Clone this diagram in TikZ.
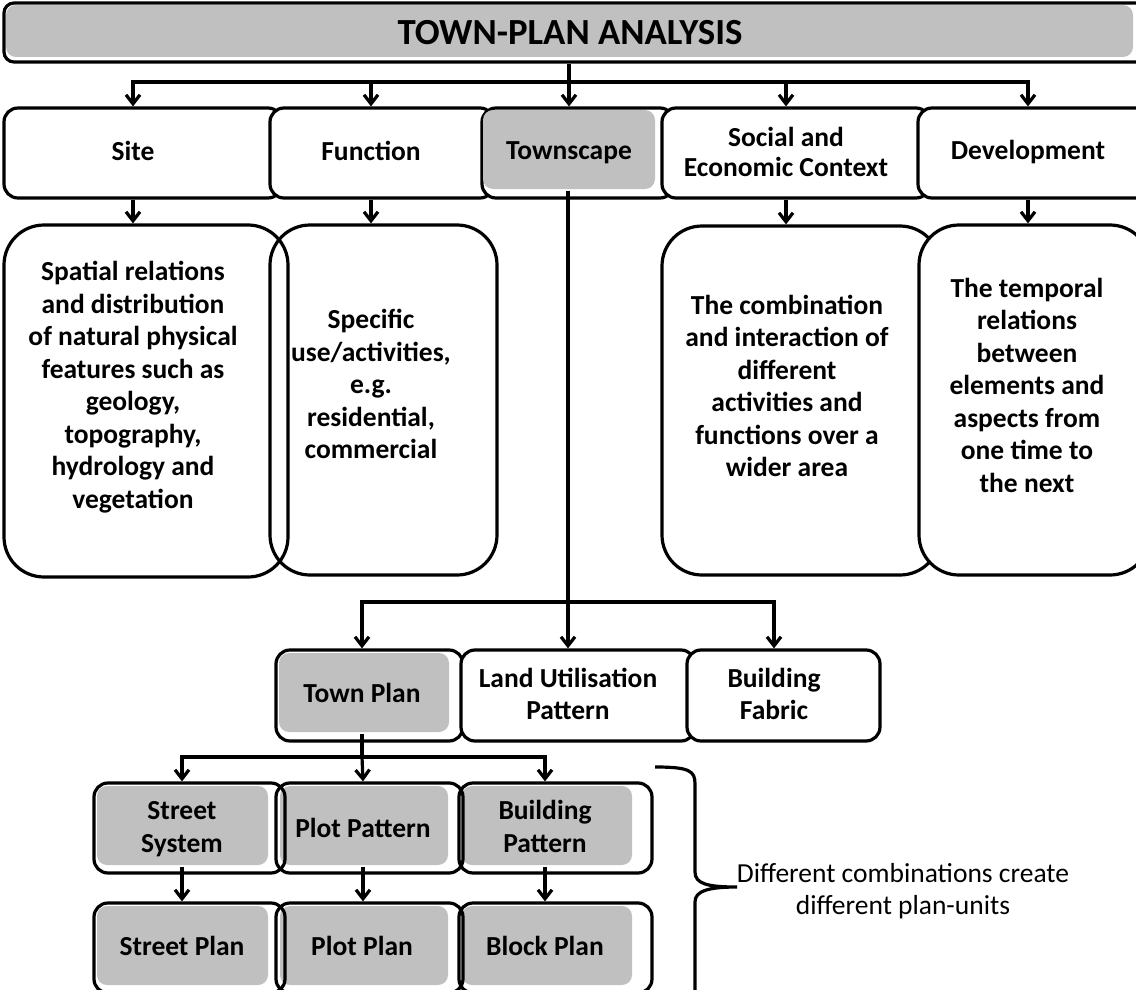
\documentclass[tikz,border=0pt]{standalone}
\usepackage{fontspec}
\setmainfont{Carlito}
\usetikzlibrary{arrows.meta}
\definecolor{boxgray}{RGB}{192,192,192}

\begin{document}
\begin{tikzpicture}[x=1pt,y=-1pt,
  line width=3.2pt,
  card/.style={draw=black, line width=3.2pt, inner sep=0pt, rounded corners=#1},
  card/.default=14pt,
  shade/.style={fill=boxgray, draw=none, inner sep=0pt, rounded corners=10pt},
  lbl/.style={inner sep=0pt, align=center, font=\bfseries\fontsize{27.5}{32.5}\selectfont},
  arr/.style={-{Straight Barb[length=9pt,width=14pt]}},
]
\useasboundingbox (0,0) rectangle (1136,990);
\clip (0,0) rectangle (1136,990);

% ---------- title ----------
\node[card=10pt, fill=white, minimum width=1146pt, minimum height=59pt] (title) at (577,32.5) {};
\node[shade, minimum width=1127pt, minimum height=52pt] (titleG) at (569.5,31) {};
\node[lbl, font=\bfseries\fontsize{36.8}{40}\selectfont] (titleL) at (570,33) {TOWN-PLAN ANALYSIS};

% ---------- first level ----------
\node[card, fill=white, minimum width=278pt, minimum height=90pt] (site) at (143,153) {};
\node[card, fill=white, minimum width=224pt, minimum height=90pt] (func) at (382,153) {};
\node[card, fill=white, minimum width=192pt, minimum height=90pt] (towns) at (578,153) {};
\node[shade, minimum width=172pt, minimum height=79pt] (townsG) at (569,149.5) {};
\node[card, fill=white, minimum width=268pt, minimum height=90pt] (social) at (796,153) {};
\node[card, fill=white, minimum width=232pt, minimum height=90pt] (devel) at (1034,153) {};

\node[lbl] (siteL) at (133,151) {Site};
\node[lbl] (funcL) at (371,151) {Function};
\node[lbl] (townsL) at (569,152.5) {Townscape};
\node[lbl, font=\bfseries\fontsize{27.5}{30}\selectfont] (socialL) at (786,152) {Social and\\Economic Context};
\node[lbl] (develL) at (1028,152.5) {Development};

% ---------- descriptions ----------
\node[card=40pt, minimum width=284pt, minimum height=352pt] (siteD) at (146,401) {};
\node[card=40pt, minimum width=227pt, minimum height=350pt] (funcD) at (383.5,400) {};
\node[card=40pt, fill=white, minimum width=278pt, minimum height=349pt] (socialD) at (801,400.5) {};
\node[card=40pt, fill=white, minimum width=231pt, minimum height=350pt] (develD) at (1034.5,400) {};

\node[lbl] (siteDL) at (133,387) {Spatial relations\\and distribution\\of natural physical\\features such as\\geology,\\topography,\\hydrology and\\vegetation};
\node[lbl] (funcDL) at (371,384) {Specific\\use/activities,\\e.g.\\residential,\\commercial};
\node[lbl] (socialDL) at (787,386) {The combination\\and interaction of\\different\\activities and\\functions over a\\wider area};
\node[lbl] (develDL) at (1027,385) {The temporal\\relations\\between\\elements and\\aspects from\\one time to\\the next};

% ---------- townscape components ----------
\node[card, fill=white, minimum width=187pt, minimum height=91pt] (tplan) at (369.5,695.5) {};
\node[shade, minimum width=170pt, minimum height=79pt] (tplanG) at (364,692.5) {};
\node[card, fill=white, minimum width=234pt, minimum height=91pt] (land) at (578,695.5) {};
\node[card, fill=white, minimum width=193pt, minimum height=91pt] (fabric) at (783.5,695.5) {};

\node[lbl] (tplanL) at (362,693) {Town Plan};
\node[lbl] (landL) at (568,694) {Land Utilisation\\Pattern};
\node[lbl] (fabricL) at (774,694) {Building\\Fabric};

% ---------- town plan components ----------
\node[shade, minimum width=171pt, minimum height=79pt] (streetG) at (182.5,825.5) {};
\node[shade, minimum width=168pt, minimum height=79pt] (plotG) at (364,825.5) {};
\node[shade, minimum width=170pt, minimum height=79pt] (bpatG) at (547,825.5) {};
\node[shade, minimum width=171pt, minimum height=79pt] (splanG) at (182.5,945.5) {};
\node[shade, minimum width=168pt, minimum height=79pt] (pplanG) at (364,945.5) {};
\node[shade, minimum width=170pt, minimum height=79pt] (blplanG) at (547,945.5) {};

\node[card, minimum width=191pt, minimum height=90pt] (street) at (189.5,828) {};
\node[card, minimum width=187pt, minimum height=90pt] (plot) at (369.5,828) {};
\node[card, minimum width=193pt, minimum height=90pt] (bpat) at (555.5,828) {};
\node[card, minimum width=191pt, minimum height=90pt] (splan) at (189.5,948) {};
\node[card, minimum width=187pt, minimum height=90pt] (pplan) at (369.5,948) {};
\node[card, minimum width=193pt, minimum height=90pt] (blplan) at (555.5,948) {};

\node[lbl] (streetL) at (182,829) {Street\\System};
\node[lbl] (plotL) at (363,828) {Plot Pattern};
\node[lbl] (bpatL) at (545,826.5) {Building\\Pattern};
\node[lbl] (splanL) at (182,946) {Street Plan};
\node[lbl] (pplanL) at (362,946) {Plot Plan};
\node[lbl] (blplanL) at (545,946) {Block Plan};

% ---------- connectors ----------
\coordinate (hubA) at (569,82);
\draw (hubA |- title.south) -- (hubA);
\draw[arr] (hubA) -| (siteL |- site.north);
\draw[arr] (hubA) -| (funcL |- func.north);
\draw[arr] (hubA) -- (townsL |- towns.north);
\draw[arr] (hubA) -| (socialL |- social.north);
\draw[arr] (hubA) -| (develL |- devel.north);

\draw[arr] (siteL |- site.south) -- (siteL |- siteD.north);
\draw[arr] (funcL |- func.south) -- (funcL |- funcD.north);
\draw[arr] (socialL |- social.south) -- (socialL |- socialD.north);
\draw[arr] (develL |- devel.south) -- (develL |- develD.north);

\coordinate (hubB) at (568,602);
\draw (hubB |- townsG.south) -- (hubB);
\draw[arr] (hubB) -| (tplanL |- tplan.north);
\draw[arr] (hubB) -- (landL |- land.north);
\draw[arr] (hubB) -| (fabricL |- fabric.north);

\coordinate (hubC) at (362,757);
\draw (tplanL |- tplanG.south) -- (hubC);
\draw[arr] (hubC) -| (streetL |- street.north);
\draw[arr] (hubC) -- (plotL |- plot.north);
\draw[arr] (hubC) -| (bpatL |- bpat.north);

\draw[arr] (streetL |- streetG.south) -- (streetL |- splan.north);
\draw[arr] (plotL |- plotG.south) -- (plotL |- pplan.north);
\draw[arr] (bpatL |- bpatG.south) -- (bpatL |- blplan.north);

% ---------- brace and note ----------
\draw (655,767) .. controls (690,767) and (695,771) .. (695,784)
  -- (695,872) .. controls (695,884) and (708,887) .. (737,887)
  .. controls (708,887) and (695,891) .. (695,902) -- (695,1010);
\node[inner sep=0pt, align=center, font=\fontsize{27.5}{32}\selectfont] (note) at (903,891)
  {Different combinations create\\different plan-units};
\end{tikzpicture}
\end{document}
